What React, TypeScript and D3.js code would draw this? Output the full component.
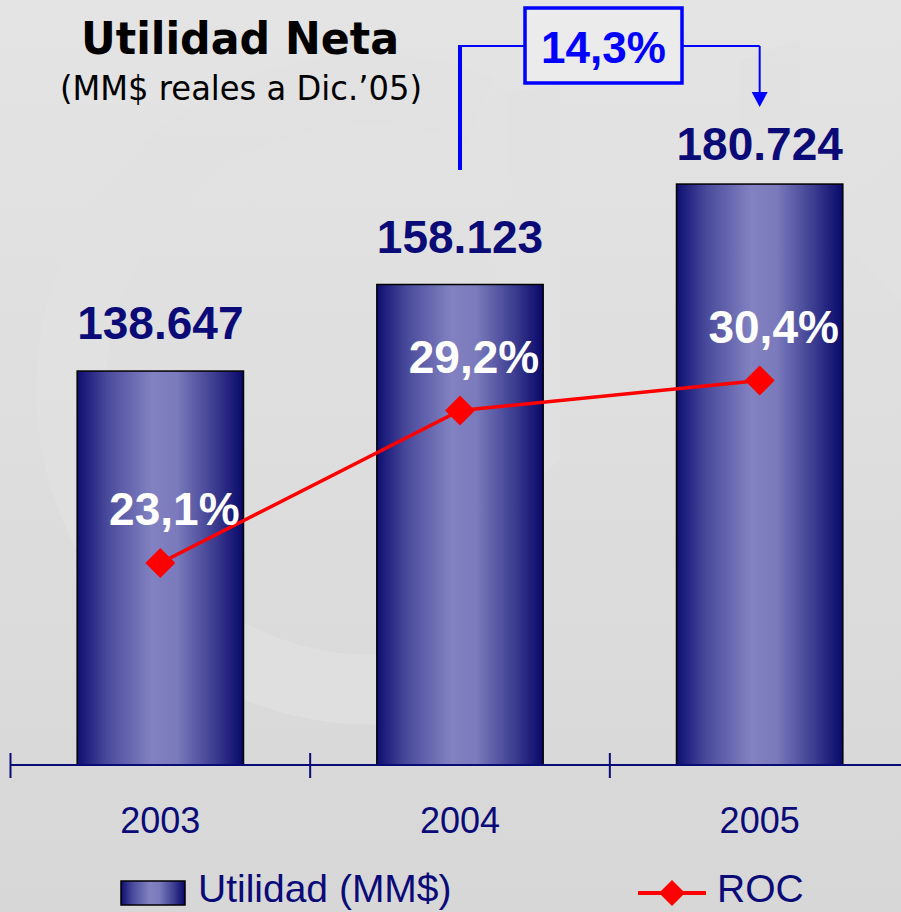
import React from "react";
import * as d3 from "d3";

const years = ["2003", "2004", "2005"];
const utilidad = [138.647, 158.123, 180.724];
const utilidadLabels = ["138.647", "158.123", "180.724"];
const roc = [23.1, 29.2, 30.4];
const rocLabels = ["23,1%", "29,2%", "30,4%"];
const growthLabel = "14,3%";
const title = "Utilidad Neta";
const subtitle = "(MM$ reales a Dic.\u201905)";
const legendBar = "Utilidad (MM$)";
const legendLine = "ROC";

const W = 901;
const H = 912;
const baseY = 765;
const ARIAL = "'Liberation Sans', Arial, sans-serif";
const TAHOMA = "'DejaVu Sans', Verdana, sans-serif";
const NAVY = "#0b0b78";

export default function App() {
  const x = d3.scaleBand<string>().domain(years).range([10.5, 909.5]).paddingInner(0).paddingOuter(0);
  const step = x.bandwidth();
  const barW = step * 0.555;
  const cx = (yr: string) => (x(yr) as number) + step / 2;
  const y = d3.scaleLinear().domain([50, 200]).range([baseY, baseY - 150 * 4.444]);
  const y2 = d3.scaleLinear().domain([0, 40]).range([1140.5, 140.5]);

  const line = d3
    .line<number>()
    .x((_, i) => cx(years[i]))
    .y((d) => y2(d));

  const diamond = (px: number, py: number, r: number) =>
    `M${px},${py - r}L${px + r},${py}L${px},${py + r}L${px - r},${py}Z`;

  const labelOffsets = [32, 32, 24];

  const x04 = cx(years[1]);
  const x05 = cx(years[2]);
  const boxX0 = 525;
  const boxX1 = 682;
  const boxY0 = 8;
  const boxY1 = 83;
  const connY = 46;

  return (
    <svg
      width={W}
      height={H}
      viewBox={`0 0 ${W} ${H}`}
      style={{ position: "absolute", left: 0, top: 0, display: "block" }}
    >
      <defs>
        <linearGradient id="bg" x1="0" y1="0" x2="0" y2="1">
          <stop offset="0" stopColor="#e4e4e4" />
          <stop offset="1" stopColor="#d7d7d7" />
        </linearGradient>
        <linearGradient id="barGrad" x1="0" y1="0" x2="1" y2="0">
          <stop offset="0" stopColor="#0e0e72" />
          <stop offset="0.18" stopColor="#4a4a9c" />
          <stop offset="0.45" stopColor="#8282c2" />
          <stop offset="0.6" stopColor="#7a7abc" />
          <stop offset="0.82" stopColor="#3e3e92" />
          <stop offset="1" stopColor="#08086a" />
        </linearGradient>
      </defs>
      <rect x={0} y={0} width={W} height={H} fill="url(#bg)" />
      {/* faint watermark */}
      <g fill="none" stroke="#e1e1e1" opacity={0.7}>
        <path d="M 480 110 A 300 300 0 1 0 520 650" strokeWidth={70} />
      </g>
      <g fill="#e1e1e1" opacity={0.55}>
        <path d="M 495 95 L 560 85 L 560 460 L 495 520 Z" />
        <path d="M 740 60 L 800 40 L 800 120 L 740 140 Z" />
        <path d="M 830 210 L 901 150 L 901 300 L 860 260 Z" />
      </g>

      {/* title */}
      <text x={240} y={54} textAnchor="middle" fontFamily={TAHOMA} fontWeight="bold" fontSize={44} fill="#000" textLength={318} lengthAdjust="spacingAndGlyphs">
        {title}
      </text>
      <text x={241} y={100} textAnchor="middle" fontFamily={TAHOMA} fontSize={34} fill="#000" textLength={362} lengthAdjust="spacingAndGlyphs">
        {subtitle}
      </text>

      {/* bars */}
      {utilidad.map((v, i) => (
        <rect
          key={years[i]}
          x={cx(years[i]) - barW / 2}
          y={y(v)}
          width={barW}
          height={baseY - y(v)}
          fill="url(#barGrad)"
          stroke="#000"
          strokeWidth={1.5}
        />
      ))}

      {/* axis */}
      <line x1={10} x2={W} y1={baseY} y2={baseY} stroke={NAVY} strokeWidth={2} />
      {years.map((yr) => (
        <line key={yr} x1={x(yr) as number} x2={x(yr) as number} y1={baseY - 12} y2={baseY + 13} stroke={NAVY} strokeWidth={2} />
      ))}
      {years.map((yr) => (
        <text key={yr} x={cx(yr)} y={833} textAnchor="middle" fontFamily={ARIAL} fontSize={36} fill={NAVY}>
          {yr}
        </text>
      ))}

      {/* value labels */}
      {utilidad.map((v, i) => (
        <text key={years[i]} x={cx(years[i])} y={y(v) - labelOffsets[i]} textAnchor="middle" fontFamily={ARIAL} fontWeight="bold" fontSize={46} fill={NAVY}>
          {utilidadLabels[i]}
        </text>
      ))}

      {/* ROC line */}
      <path d={line(roc) || ""} fill="none" stroke="#ff0000" strokeWidth={3.5} />
      {roc.map((v, i) => (
        <path key={years[i]} d={diamond(cx(years[i]), y2(v), 15)} fill="#ff0000" />
      ))}
      {roc.map((v, i) => (
        <text key={years[i]} x={cx(years[i]) + 14} y={y2(v) - 38} textAnchor="middle" fontFamily={ARIAL} fontWeight="bold" fontSize={46} fill="#ffffff">
          {rocLabels[i]}
        </text>
      ))}

      {/* growth annotation */}
      <line x1={x04} x2={x04} y1={connY - 1} y2={170} stroke="#0000ff" strokeWidth={4} />
      <line x1={x04} x2={boxX0} y1={connY} y2={connY} stroke="#0000ff" strokeWidth={2} />
      <line x1={boxX1} x2={x05} y1={connY} y2={connY} stroke="#0000ff" strokeWidth={2} />
      <line x1={x05} x2={x05} y1={connY} y2={94} stroke="#0000ff" strokeWidth={2} />
      <path d={`M${x05 - 8},92L${x05 + 8},92L${x05},107Z`} fill="#0000ff" />
      <rect x={boxX0} y={boxY0} width={boxX1 - boxX0} height={boxY1 - boxY0} fill="#ebebeb" stroke="#0000ff" strokeWidth={3.5} />
      <text x={(boxX0 + boxX1) / 2} y={63} textAnchor="middle" fontFamily={ARIAL} fontWeight="bold" fontSize={44} fill="#0000ff">
        {growthLabel}
      </text>

      {/* legend */}
      <rect x={121} y={881} width={64} height={24} fill="url(#barGrad)" stroke="#000" strokeWidth={1.5} />
      <text x={198} y={902} fontFamily={ARIAL} fontSize={39} fill={NAVY}>
        {legendBar}
      </text>
      <line x1={638} x2={706} y1={893} y2={893} stroke="#ff0000" strokeWidth={4} />
      <path d={diamond(672, 893, 13)} fill="#ff0000" />
      <text x={717} y={902} fontFamily={ARIAL} fontSize={39} fill={NAVY}>
        {legendLine}
      </text>
    </svg>
  );
}
